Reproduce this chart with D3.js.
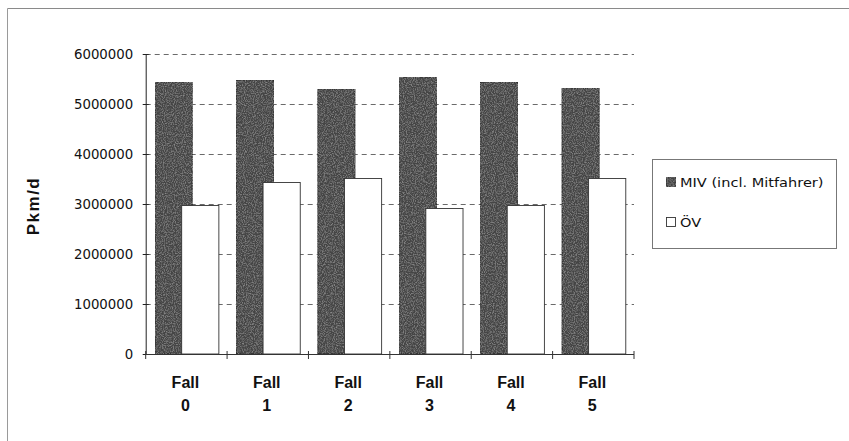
<!DOCTYPE html>
<html>
<head>
<meta charset="utf-8">
<script src="https://cdn.jsdelivr.net/npm/d3@7"></script>
<style>
  html, body { margin: 0; padding: 0; background: #fff; }
  svg { display: block; }
</style>
</head>
<body>
<svg id="chart" width="849" height="441"></svg>
<script>
// Passenger-km per day by scenario
const categories = ["0", "1", "2", "3", "4", "5"];
const categoryPrefix = "Fall";
const seriesNames = ["MIV (incl. Mitfahrer)", "ÖV"];
const mivValues = [5430000, 5480000, 5300000, 5530000, 5430000, 5310000];
const oevValues = [2970000, 3430000, 3510000, 2910000, 2970000, 3510000];
const yTicks = [0, 1000000, 2000000, 3000000, 4000000, 5000000, 6000000];
const yTitle = "Pkm/d";

const svg = d3.select("#chart");
const W = 849, H = 441;
const plot = { left: 145.7, right: 634, top: 54, bottom: 354 };

// mottled dark fill for the car bars
const defs = svg.append("defs");
const f = defs.append("filter").attr("id", "grain").attr("x", 0).attr("y", 0).attr("width", 1).attr("height", 1);
f.append("feTurbulence").attr("type", "fractalNoise").attr("baseFrequency", 0.9).attr("numOctaves", 2).attr("seed", 3).attr("result", "noise");
f.append("feColorMatrix").attr("in", "noise").attr("type", "matrix")
  .attr("values", "0 0 0 0 0.55  0 0 0 0 0.55  0 0 0 0 0.55  0.9 0 0 0 -0.38").attr("result", "speck");
f.append("feComposite").attr("in", "speck").attr("in2", "SourceGraphic").attr("operator", "atop");

// outer frame (top and left edges)
svg.append("line").attr("x1", 7.5).attr("x2", W).attr("y1", 8.5).attr("y2", 8.5).attr("stroke", "#8a8a8a");
svg.append("line").attr("x1", 7.5).attr("x2", 7.5).attr("y1", 8.5).attr("y2", H).attr("stroke", "#9a9a9a");

const x = d3.scaleBand().domain(categories).range([plot.left, plot.right]).padding(0);
const y = d3.scaleLinear().domain([0, 6000000]).range([plot.bottom, plot.top]);
const bw = x.bandwidth();

// dashed gridlines
svg.append("g").selectAll("line").data(yTicks.filter(t => t > 0)).join("line")
  .attr("x1", plot.left).attr("x2", plot.right)
  .attr("y1", d => Math.round(y(d)) + 0.5).attr("y2", d => Math.round(y(d)) + 0.5)
  .attr("stroke", "#6a6a6a").attr("stroke-dasharray", "5,4");

// bars: car bars first, public transport bars overlapping on top
const barW = bw * 0.457;
const mivOff = bw * 0.115, oevOff = bw * 0.442;
const gBars = svg.append("g");
gBars.selectAll("rect.miv").data(categories).join("rect").attr("class", "miv")
  .attr("x", (c) => x(c) + mivOff).attr("width", barW)
  .attr("y", (c, i) => y(mivValues[i])).attr("height", (c, i) => y(0) - y(mivValues[i]))
  .attr("fill", "#444").attr("stroke", "#222").attr("stroke-width", 0.8)
  .attr("filter", "url(#grain)");
gBars.selectAll("rect.oev").data(categories).join("rect").attr("class", "oev")
  .attr("x", (c) => x(c) + oevOff).attr("width", barW)
  .attr("y", (c, i) => y(oevValues[i])).attr("height", (c, i) => y(0) - y(oevValues[i]))
  .attr("fill", "#fff").attr("stroke", "#333").attr("stroke-width", 0.9);

// y axis
const yAxis = d3.axisLeft(y).tickValues(yTicks).tickSize(0).tickFormat(d3.format("d"));
const gy = svg.append("g").attr("transform", `translate(${plot.left},0)`).call(yAxis);
gy.select(".domain").attr("stroke", "#222");
gy.selectAll(".tick line").attr("x1", -3).attr("x2", 3).attr("stroke", "#222");
gy.selectAll(".tick text").attr("x", -12.5).attr("dy", "0.36em")
  .attr("font-family", "DejaVu Sans").attr("font-size", 13.3).attr("fill", "#111");

// x axis with ticks at category boundaries
const gx = svg.append("g");
gx.append("line").attr("x1", plot.left).attr("x2", plot.right)
  .attr("y1", plot.bottom + 0.5).attr("y2", plot.bottom + 0.5).attr("stroke", "#333");
const bounds = categories.map(c => x(c)).concat([x(categories[categories.length - 1]) + bw]);
gx.selectAll("line.t").data(bounds).join("line").attr("class", "t")
  .attr("x1", d => d).attr("x2", d => d).attr("y1", plot.bottom - 3).attr("y2", plot.bottom + 5)
  .attr("stroke", "#333");
const lbl = gx.selectAll("text.cat").data(categories).join("text").attr("class", "cat")
  .attr("text-anchor", "middle").attr("font-family", "Liberation Sans, Arial").attr("font-weight", "bold")
  .attr("font-size", 16).attr("fill", "#111");
lbl.append("tspan").attr("x", c => x(c) + bw / 2 - 1).attr("y", 388).text(categoryPrefix);
lbl.append("tspan").attr("x", c => x(c) + bw / 2 - 1).attr("y", 410.5).text(c => c);

// y axis title
svg.append("text").attr("transform", "translate(39,206) rotate(-90)")
  .attr("text-anchor", "middle").attr("font-family", "Liberation Sans, Arial").attr("font-weight", "bold")
  .attr("font-size", 17).attr("letter-spacing", 1.5).attr("fill", "#111").text(yTitle);

// legend
const lg = svg.append("g");
lg.append("rect").attr("x", 652.5).attr("y", 159.5).attr("width", 184).attr("height", 89)
  .attr("fill", "#fff").attr("stroke", "#777");
const items = [
  { name: seriesNames[0], fill: "#444", grain: true, y: 177 },
  { name: seriesNames[1], fill: "#fff", grain: false, y: 217 }
];
items.forEach(it => {
  lg.append("rect").attr("x", 666.5).attr("y", it.y + 0.5).attr("width", 9).attr("height", 9)
    .attr("fill", it.fill).attr("stroke", "#333").attr("stroke-width", 0.9)
    .attr("filter", it.grain ? "url(#grain)" : null);
  lg.append("text").attr("transform", `translate(680,${it.y + 10}) scale(1.12,1)`)
    .attr("font-family", "DejaVu Sans").attr("font-size", 13).attr("fill", "#111").text(it.name);
});
</script>
</body>
</html>
